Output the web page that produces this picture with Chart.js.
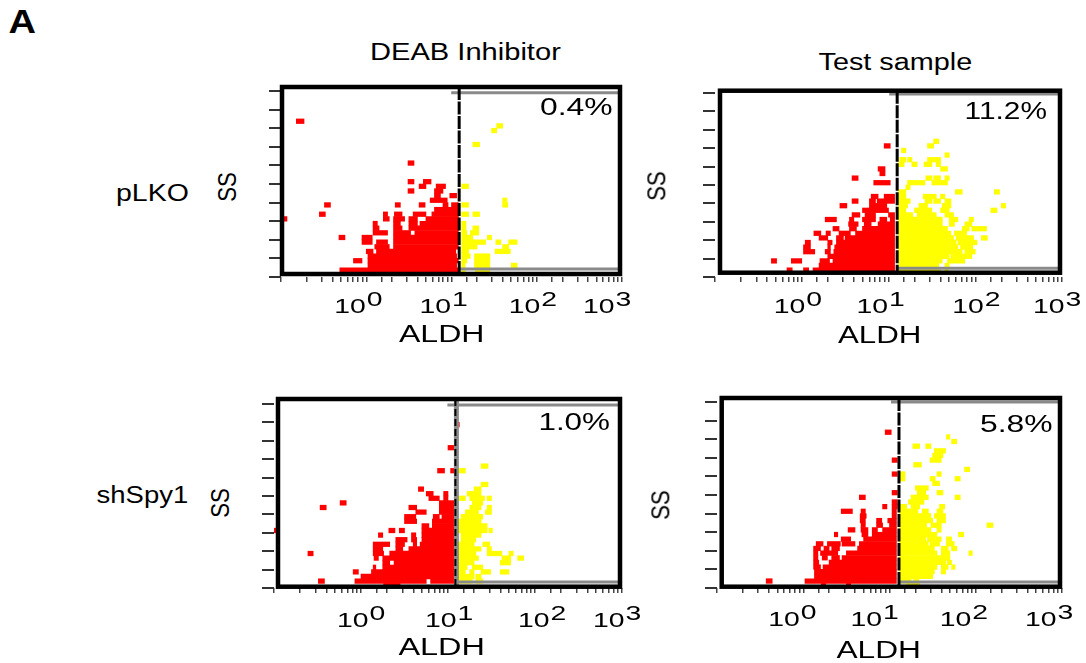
<!DOCTYPE html>
<html><head><meta charset="utf-8">
<script src="https://cdn.jsdelivr.net/npm/chart.js@4"></script>
<style>
html,body{margin:0;padding:0;background:#fff;width:1086px;height:663px;overflow:hidden}
canvas{position:absolute}
.t{position:absolute;white-space:nowrap;font-family:"Liberation Sans",Arial,sans-serif;color:#000;line-height:1}
</style></head><body>
<script>
// Every row: [SS value, log10(ALDH) start, end, start, end, ...]
const deabPlkoRed=[
[.375,-.31,1.08],[.625,.02,1.06],[.875,-.15,-.05,.02,1.08],[1.125,.02,1.06],[1.375,0,.08,.12,1.05],
[1.625,.1,.27,.32,1.08],[1.875,-.05,.07,.12,.25,.32,1.08],[2.125,-.32,-.25,-.05,.07,.32,1.08],
[2.375,.08,.25,.32,.52,.57,1.08],[2.625,.08,.15,.32,.42,.5,1.08],[2.875,.08,.13,.32,.4,.5,.6,.63,1.08],
[3.125,-1,-.93,.2,.27,.32,.45,.5,.6,.7,1.08],[3.375,-.55,-.48,.2,.25,.33,.42,.55,.7,.77,1.08],[3.625,.8,1.08],
[3.875,-.49,-.42,.34,.4,.62,.69,.9,.96,1,1.08],[4.125,.75,.95],[4.375,.8,.87,.98,1.06],[4.625,.49,.56,.8,.9],
[4.875,.62,.7,.82,.93],[5.125,.49,.56,.67,.76],[6.125,.49,.56],[8.375,-.82,-.73]];
const deabPlkoYellow=[
[.375,1.12,1.16,1.28,1.45],[.625,1.12,1.16,1.27,1.45,1.7,1.77],[.875,1.12,1.18,1.27,1.45],[1.125,1.12,1.22,1.27,1.45],
[1.375,1.12,1.2,1.51,1.69],[1.625,1.12,1.3,1.6,1.67],[1.875,1.12,1.4,1.52,1.58,1.67,1.77],[2.125,1.12,1.25,1.42,1.47],
[2.375,1.12,1.18,1.22,1.32],[2.625,1.12,1.17,1.25,1.32],[2.875,1.12,1.17],[3.375,1.12,1.2,1.25,1.33],
[3.875,1.12,1.2,1.6,1.66],[4.125,1.6,1.65],[4.875,1.12,1.2],[7.125,1.25,1.33],[7.875,1.47,1.53],[8.125,1.53,1.6]];
const testPlkoRed=[
[.375,-.17,-.11,.02,.08,.13,1.07],[.625,.2,1.07],[.875,-.35,-.29,-.12,0,.21,.32,.36,1.07],[1.125,.3,1.07],
[1.375,.02,.15,.27,.33,.37,1.07],[1.625,.02,.1,.3,.33,.38,1.07],[1.875,.04,.1,.3,.35,.4,1.07],[2.125,.2,.3,.4,.48,.5,1.07],
[2.375,.14,.22,.28,.33,.43,.56,.62,1.07],[2.625,.36,.43,.55,.63,.7,1.07],[2.875,.54,.65,.72,.8,.88,1.07],
[3.125,.27,.4,.55,.6,.7,.85,.9,.98,1.02,1.07],[3.375,.58,.67,.73,.85,1,1.07],[3.625,.7,1],[3.875,.44,.52,.78,.98],
[4.125,.58,.65,.78,.85,.87,1.07],[4.375,.8,.88,.95,1.07],[5.125,.83,1.02],[5.375,.58,.65],[5.625,.9,.96],[5.875,.88,.96],[7.125,.95,1.02]];
const testPlkoYellow=[
[.375,1.12,1.6,1.65,1.69],[.625,1.12,1.58,1.65,1.7],[.875,1.12,1.62,1.68,1.88],[1.125,1.12,1.7,1.72,1.96],
[1.375,1.12,1.85,1.88,2],[1.625,1.12,1.8,1.83,1.97],[1.875,1.12,1.78,1.8,2.02],[2.125,1.12,1.75,1.78,1.98,2.07,2.14],
[2.375,1.12,1.72,1.76,1.9],[2.625,1.12,1.68,1.85,1.93,1.96,2.13],[2.875,1.12,1.62,1.7,1.76,1.88,1.96],[3.125,1.12,1.62,1.7,1.8,1.93,1.98],
[3.375,1.12,1.28,1.33,1.55,1.65,1.75],[3.625,1.12,1.2,1.3,1.5,1.6,1.7,2.18,2.25],[3.875,1.12,1.22,1.35,1.45,1.62,1.72,2.3,2.35],
[4.125,1.12,1.25,1.42,1.5,1.52,1.6,1.65,1.72],[4.375,1.12,1.2,1.4,1.55,1.6,1.65],[4.625,1.12,1.2,1.77,1.85,2.22,2.28],[4.875,1.2,1.25],
[5.125,1.22,1.42,1.5,1.68],[5.375,1.43,1.5,1.52,1.6,1.65,1.7],[5.875,1.6,1.68],[6.125,1.12,1.18,1.27,1.33,1.41,1.5,1.55,1.6],
[6.375,1.13,1.2,1.22,1.27,1.45,1.6],[6.625,1.65,1.7],[6.875,1.15,1.2],[7.125,1.45,1.52],[7.375,1.52,1.58]];
const deabShRed=[
[.125,.26,.45],[.375,-.49,-.42,-.07,.75,.8,1.07],[.625,0,1.07],[.875,-.09,-.03,.12,1.07],[1.125,.14,.17,.25,1.07],[1.375,.25,.33,.38,1.07],
[1.625,.15,.2,.25,1.07],[1.875,-.61,-.55,.14,.26,.33,1.07],[2.125,.14,.25,.4,.48,.55,1.07],[2.375,.14,.33,.4,.5,.6,.64,.68,1.07],
[2.625,.4,.53,.58,.64,.7,1.07],[2.875,.2,.25,.58,.63,.7,1.07],[3.125,-1,-.94,.32,.39,.44,.5,.7,1.07],[3.375,.7,.78,.82,1.07],
[3.625,.5,.64,.82,1.07],[3.875,.5,.63,.83,.9,.93,1.07],[4.125,.63,.75,.9,1.07],[4.375,-.47,-.4,.55,.64,.9,1.07],[4.625,-.24,-.17,.9,1.07],
[4.875,.78,.9,.95,1],[5.125,.75,.83,.95,1],[5.375,.66,.72],[6.375,.88,.96,1.03,1.07],[7.625,1,1.07],[8.875,1.09,1.13]];
const deabShYellow=[
[.375,1.12,1.28,1.32,1.4],[.625,1.12,1.3,1.32,1.38],[.875,1.12,1.2,1.25,1.3,1.38,1.49,1.6,1.7],[1.125,1.12,1.22,1.28,1.4],
[1.375,1.12,1.3,1.6,1.72],[1.625,1.12,1.35,1.62,1.72,1.8,1.87],[1.875,1.12,1.32,1.45,1.62,1.7,1.75],[2.125,1.12,1.38,1.45,1.5],
[2.375,1.12,1.3,1.4,1.48],[2.625,1.15,1.32],[2.875,1.15,1.38],[3.125,1.12,1.45,1.47,1.51],[3.375,1.12,1.45],[3.625,1.12,1.38],
[3.875,1.15,1.4],[4.125,1.2,1.35,1.43,1.5],[4.375,1.25,1.38,1.45,1.5],[4.625,1.28,1.4],[4.875,1.13,1.2,1.25,1.42,1.45,1.5],
[5.125,1.22,1.38],[5.375,1.3,1.38],[5.625,1.38,1.46],[6.375,1.13,1.2],[6.625,1.38,1.46]];
const testShRed=[
[.125,.21,.26,.5,.55],[.375,-.43,-.36,.02,1.08],[.625,.13,1.08],[.875,.13,1.08],[1.125,.12,.2,.23,1.08],[1.375,.12,.18,.3,1.08],
[1.625,.12,.17,.22,.28,.33,.42,.45,1.08],[1.875,.12,.17,.2,.4,.5,1.08],[2.125,.12,.2,.24,.3,.33,.42,.63,1.08],[2.375,.15,.23,.28,.43,.45,.6,.65,1.08],
[2.625,.44,.55,.7,1.08],[2.875,.36,.4,.68,.75,.8,1.08],[3.125,.52,.6,.67,.75,.8,.86,.92,1.08],[3.375,.67,.72,.85,.92,1,1.08],
[3.625,.66,.72,.85,.91,.98,1.08],[3.875,.66,.73,1.03,1.08],[4.125,.44,.57,.67,.72,1.03,1.08],[4.375,.92,.97,1.03,1.09],[4.625,1.03,1.09],
[4.875,.65,.72],[5.125,1.03,1.09],[6.125,1.03,1.09],[6.875,1.03,1.09],[8.375,.95,1.02]];
const testShYellow=[
[.125,1.2,1.35],[.375,1.12,1.25,1.28,1.34],[.625,1.12,1.5],[.875,1.12,1.52,1.6,1.65],[1.125,1.12,1.55,1.6,1.68,1.72,1.76],[1.375,1.12,1.65,1.67,1.72],
[1.625,1.12,1.7],[1.875,1.12,1.55,1.6,1.7,1.92,1.96],[2.125,1.12,1.52,1.6,1.68,1.72,1.78],[2.375,1.12,1.45,1.47,1.58,1.66,1.75],
[2.625,1.12,1.42,1.44,1.6,1.66,1.72],[2.875,1.12,1.55,1.8,1.86],[3.125,1.12,1.48,1.55,1.6],[3.375,1.12,1.43,1.48,1.6,2.13,2.2],
[3.625,1.12,1.5,1.55,1.65],[3.875,1.12,1.48,1.52,1.65],[4.125,1.12,1.33,1.38,1.45,1.55,1.62],[4.375,1.12,1.2,1.25,1.35,1.58,1.64],
[4.625,1.22,1.4],[4.875,1.25,1.45,1.76,1.82],[5.125,1.32,1.42,1.55,1.62],[5.375,1.3,1.45],[5.625,1.5,1.58],[5.875,1.12,1.18,1.47,1.53,1.76,1.82],
[6.125,1.12,1.18,1.55,1.6],[6.375,1.87,1.93],[6.625,1.28,1.37],[6.875,1.47,1.6],[7.125,1.5,1.62],[7.375,1.52,1.65],
[7.625,1.27,1.35,1.42,1.48],[7.875,1.72,1.78],[8.125,1.66,1.7]];
const xTickValues=[1,10,100,1000];
const xTickBase='10';
const xTickExponents=['0','1','2','3'];
const yTickValues=[0,1,2,3,4,5,6,7,8,9,10];

const panels=[
 {red:deabPlkoRed,yellow:deabPlkoYellow,L:281,R:621.7,T:91,B:277.3,fL:282,fR:620,fT:87,fB:274,gate:1.09,bT:92.7,bB:269,lab:[-8,-8,-4,-15],base:36},
 {red:testPlkoRed,yellow:testPlkoYellow,L:715,R:1061.7,T:92.7,B:276.7,fL:720,fR:1060,fT:90.7,fB:272.7,gate:1.10,bT:94,bB:268.3,lab:[-4,-8,1,-5],base:36},
 {red:deabShRed,yellow:deabShYellow,L:274,R:621.7,T:404,B:588,fL:278,fR:620,fT:399,fB:586.7,gate:1.085,bT:405,bB:582,lab:[0,1,7,-5],base:39,grayGate:true},
 {red:testShRed,yellow:testShYellow,L:717,R:1061.7,T:402,B:588.3,fL:721.7,fR:1060,fT:398,fB:586.7,gate:1.11,bT:402,bB:582,lab:[-11,-15,-12,-13],base:38}
];
const labels=[
 ['A',22,21,28,34,0,'bold'],['DEAB Inhibitor',465,52,191,23],['Test sample',895,62,154,23],['pLKO',152,193,73,23],['shSpy1',142,495,92,23],
 ['SS',227,187,30,26,-90],['SS',656,186,30,26,-90],['SS',220,503,30,26,-90],['SS',660,505,30,26,-90],
 ['ALDH',441,334,85,23],['ALDH',879,335,83,23],['ALDH',441,647,86,23],['ALDH',878,650,84,23],
 ['0.4%',576,107,72,23],['11.2%',1006,111,83,23],['1.0%',574,422,71,23],['5.8%',1016,424,72,23]
];
function bars(rows){
  const out=[];
  rows.forEach(r=>{for(let i=1;i<r.length;i+=2)out.push({y:r[0],x:[Math.pow(10,r[i]),Math.pow(10,r[i+1])]});});
  return out;
}
function makePanel(p){
  const c=document.createElement('canvas');
  const pad={l:20,r:24,t:16,b:48};
  const tickY=12,tickX=5;
  const cl=Math.round(p.L)-tickY-pad.l, ct=Math.round(p.T)-pad.t;
  const cw=Math.round(p.R-p.L)+tickY+pad.l+pad.r, ch=Math.round(p.B-p.T)+tickX+pad.t+pad.b;
  c.style.left=cl+'px';c.style.top=ct+'px';c.style.width=cw+'px';c.style.height=ch+'px';c.width=cw;c.height=ch;
  document.body.appendChild(c);
  const decor={id:'decor',afterDatasetsDraw(ch){
    const g=ch.ctx,x=ch.scales.x;
    const px=v=>v-cl,py=v=>v-ct;
    const gx=x.getPixelForValue(Math.pow(10,p.gate));
    g.save();
    g.strokeStyle='#8a8a8a';g.lineWidth=3;
    g.beginPath();g.moveTo(gx-8,py(p.bT));g.lineTo(px(p.fR),py(p.bT));g.moveTo(gx,py(p.bB));g.lineTo(px(p.fR),py(p.bB));g.stroke();
    if(p.grayGate){g.lineWidth=5;g.beginPath();g.moveTo(gx+1,py(p.fT));g.lineTo(gx+1,py(p.fB));g.stroke();}
    g.strokeStyle='#000';g.lineWidth=p.grayGate?2:3;g.setLineDash(p.grayGate?[7,3]:[13,1.5]);
    g.beginPath();g.moveTo(gx,py(p.fT));g.lineTo(gx,py(p.fB));g.stroke();
    g.setLineDash([]);g.lineWidth=4.5;g.strokeStyle='#000';
    g.strokeRect(px(p.fL),py(p.fT),p.fR-p.fL,p.fB-p.fT);
    g.fillStyle='#000';g.textBaseline='alphabetic';g.textAlign='left';g.font='21px "Liberation Sans"';
    xTickValues.forEach((v,i)=>{
      const cx=x.getPixelForValue(v)+p.lab[i]-24, by=py(p.B+p.base);
      g.save();g.translate(cx,0);g.scale(1.35,1);
      g.fillText(xTickBase,0,by);g.fillText(xTickExponents[i],24,by-7);
      g.restore();
    });
    g.restore();
  }};
  new Chart(c,{type:'bar',
    data:{datasets:[
      {label:'ALDH-',data:bars(p.red),backgroundColor:'#ff0000'},
      {label:'ALDH+',data:bars(p.yellow),backgroundColor:'#ffff00'}]},
    plugins:[decor],
    options:{indexAxis:'y',responsive:false,animation:false,
      datasets:{bar:{grouped:false,barThickness:4.6,borderWidth:0}},
      layout:{padding:{left:pad.l,right:pad.r,top:pad.t,bottom:pad.b}},
      plugins:{legend:{display:false},title:{display:false},tooltip:{enabled:false}},
      scales:{
        x:{type:'logarithmic',min:.1,max:1000,border:{display:false},
           grid:{drawOnChartArea:false,drawTicks:true,tickLength:tickX,color:'#444',lineWidth:1.5},
           ticks:{display:false},afterFit(s){s.height=tickX;}},
        y:{type:'linear',min:0,max:10,offset:false,border:{display:false},
           afterBuildTicks(s){s.ticks=yTickValues.map(v=>({value:v}));},
           grid:{offset:false,drawOnChartArea:false,drawTicks:true,tickLength:tickY,color:'#333',lineWidth:2},
           ticks:{display:false},afterFit(s){s.width=tickY;}}
      }}});
}
panels.forEach(makePanel);
labels.forEach(([s,cx,cy,w,fs,rot,weight])=>{
  const e=document.createElement('span');e.className='t';e.textContent=s;e.style.fontSize=fs+'px';
  if(weight)e.style.fontWeight=weight;
  document.body.appendChild(e);
  const m=e.offsetWidth,h=e.offsetHeight;
  e.style.left=(cx-m/2)+'px';e.style.top=(cy-h/2)+'px';
  e.style.transform=(rot?`rotate(${rot}deg) `:'')+`scaleX(${w/m})`;
});
</script>
</body></html>
